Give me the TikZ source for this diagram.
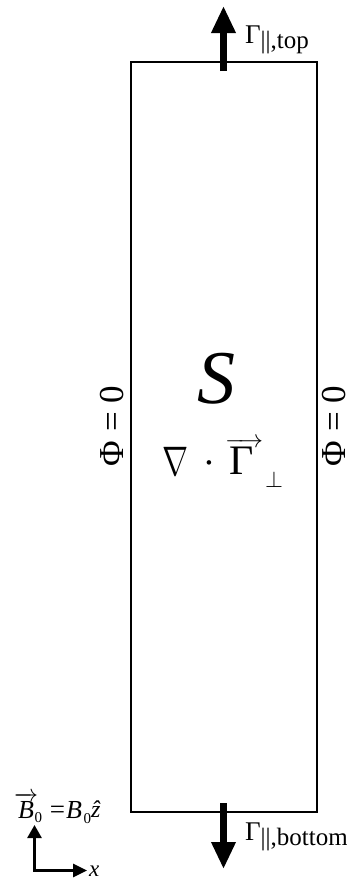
\documentclass[tikz,border=0pt]{standalone}
\usepackage{fix-cm}
\usepackage{fontspec}
\setmainfont{Liberation Serif}
\usetikzlibrary{arrows.meta}
\tikzset{
  box/.style={line width=2pt},
  bigflux/.style={line width=6.5pt,-{Triangle[width=23pt,length=27pt]}},
  axisz/.style={line width=2.7pt,-{Triangle[width=14pt,length=13pt]}},
  axisx/.style={line width=2.7pt,-{Triangle[width=13pt,length=14pt]}},
  lbl/.style={inner sep=0pt,outer sep=0pt}
}
\newcommand{\fsz}[1]{\fontsize{#1}{#1}\selectfont}
\begin{document}
\begin{tikzpicture}[x=1pt,y=-1pt]
\useasboundingbox (0,0) rectangle (347,879);
% domain
\coordinate (tl) at (131,62);
\coordinate (br) at (317,812);
\draw[box] (tl) rectangle (br);
% fluxes
\coordinate (ts) at (223.5,71);
\coordinate (te) at (223.5,6);
\draw[bigflux] (ts) -- (te);
\coordinate (bs) at (223.5,803);
\coordinate (be) at (223.5,869);
\draw[bigflux] (bs) -- (be);
\node[lbl,anchor=base west] (gtop) at (245,43) {\fsz{27}Γ\raisebox{-5pt}{\fsz{25}||,top}};
\node[lbl,anchor=base west] (gbot) at (245,840) {\fsz{27}Γ\raisebox{-5pt}{\fsz{25}||,bottom}};
% boundary conditions
\node[lbl,rotate=90,anchor=base] (phil) at (123,426) {\fsz{35}Φ = 0};
\node[lbl,rotate=90,anchor=base] (phir) at (345.5,426) {\fsz{35}Φ = 0};
% source and divergence
\node[lbl,anchor=base] (S) at (216,403) {\fsz{76}\textit{S}};
\node[lbl,anchor=base west] (nab) at (162,475) {\fsz{25}\scalebox{1.25}[1.65]{$\nabla$}};
\node[lbl,anchor=base] (dot) at (209.5,473.5) {\fsz{25}\scalebox{1.7}{$\cdot$}};
\node[lbl,anchor=base] (gam) at (244,474) {\fsz{25}$\overrightarrow{\makebox[38pt][c]{\fsz{42}\hspace{-4pt}Γ}}$};
\node[lbl,anchor=base west] (perp) at (265,487) {\fsz{23}$\perp$};
% axes
\coordinate (o) at (34.5,870.5);
\coordinate (oz) at (34.5,825);
\coordinate (ox) at (87,870.5);
\draw[axisz] ([yshift=1.35pt]o) -- (oz);
\draw[axisx] ([xshift=-1.35pt]o) -- (ox);
\node[lbl,anchor=base west] (xl) at (89,876) {\fsz{23}\textit{x}};
% B0 label
\node[lbl,anchor=base west] (b1) at (14,818) {\fsz{24}$\overrightarrow{\mbox{\fsz{26}\textit{B}}}$};
\node[lbl,anchor=base west] (s1) at (34.5,822) {\fsz{15}0};
\node[lbl,anchor=base] (eq) at (57.5,818) {\fsz{27}=};
\node[lbl,anchor=base west] (b2) at (66,818) {\fsz{26}\textit{B}};
\node[lbl,anchor=base west] (s2) at (83.5,823) {\fsz{15}0};
\node[lbl,anchor=base west] (zh) at (91,817) {\fsz{24}\textit{ẑ}};
\end{tikzpicture}
\end{document}
